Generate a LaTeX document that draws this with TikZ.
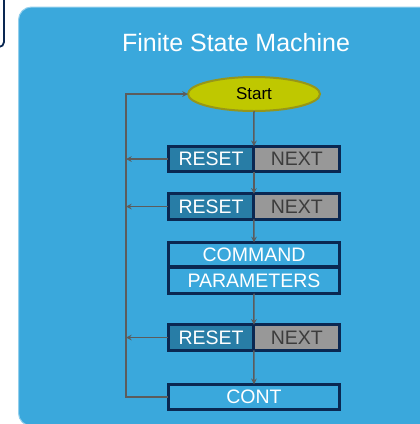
\documentclass[tikz,border=0pt]{standalone}
\usepackage{fontspec}
\setmainfont{Liberation Sans}
\usetikzlibrary{shapes.geometric, arrows}
\definecolor{panelblue}{RGB}{58,168,220}
\definecolor{boxnavy}{RGB}{10,40,82}
\definecolor{resetfill}{RGB}{40,125,166}
\definecolor{nextfill}{RGB}{152,152,152}
\definecolor{nexttext}{RGB}{60,60,60}
\definecolor{startfill}{RGB}{191,200,0}
\definecolor{startedge}{RGB}{150,150,25}
\definecolor{arrowgrey}{RGB}{92,92,92}

\begin{document}
\begin{tikzpicture}[x=1pt, y=1pt, node distance=85.75pt]
    \tikzstyle{startstate} = [ellipse, minimum width=132pt, minimum height=34pt, inner sep=0pt, outer sep=0pt, draw=startedge, line width=2pt, fill=startfill, font=\fontsize{17}{19}\selectfont]
    \tikzstyle{resetpart} = [rectangle, minimum width=85.75pt, minimum height=25.5pt, inner sep=0pt, outer sep=0pt, draw=boxnavy, line width=3pt, fill=resetfill, text=white, font=\fontsize{19.5}{21}\selectfont]
    \tikzstyle{nextpart} = [resetpart, fill=nextfill, text=nexttext]
    \tikzstyle{wordbox} = [resetpart, minimum width=171.5pt, fill=panelblue]
    \tikzstyle{arrow} = [draw=arrowgrey, line width=1.5pt, ->, >=stealth]

    \useasboundingbox (0,0) rectangle (420,-424);
    \draw[boxnavy, line width=1.8pt, fill=white, rounded corners=5pt] (-20,20) rectangle (4,-47);
    \draw[panelblue!55!white, line width=1pt, fill=panelblue, rounded corners=13pt] (18.5,-7) rectangle (450,-426);

    \node (title) [text=white, font=\fontsize{25}{30}\selectfont] at (236,-42.5) {Finite State Machine};
    \node (start) [startstate] at (254,-94) {Start};
    \node (reset1) [resetpart] at (211.1,-159) {RESET};
    \node (next1) [nextpart, right of=reset1] {NEXT};
    \node (reset2) [resetpart] at (211.1,-206.5) {RESET};
    \node (next2) [nextpart, right of=reset2] {NEXT};
    \node (command) [wordbox, minimum height=24.5pt] at (254,-254.6) {COMMAND};
    \node (params) [wordbox, minimum height=26.5pt] at (254,-280.4) {PARAMETERS};
    \node (reset3) [resetpart] at (211.1,-337.5) {RESET};
    \node (next3) [nextpart, right of=reset3] {NEXT};
    \node (cont) [wordbox] at (254,-397) {CONT};

    \coordinate (looptop) at (126,-94);
    \coordinate (back1) at (126,-159);
    \coordinate (back2) at (126,-206.5);
    \coordinate (back3) at (126,-337.5);

    \draw [arrow] (start.south) -- (reset1.north east);
    \draw [arrow] (reset1.south east) -- (reset2.north east);
    \draw [arrow] (reset2.south east) -- (command.north);
    \draw [arrow] (params.south) -- (reset3.north east);
    \draw [arrow] (reset3.south east) -- (cont.north);
    \draw [arrow] (reset1) -- (back1);
    \draw [arrow] (reset2) -- (back2);
    \draw [arrow] (reset3) -- (back3);
    \draw [arrow] (cont.west) -| (looptop) -- (start);
\end{tikzpicture}
\end{document}
